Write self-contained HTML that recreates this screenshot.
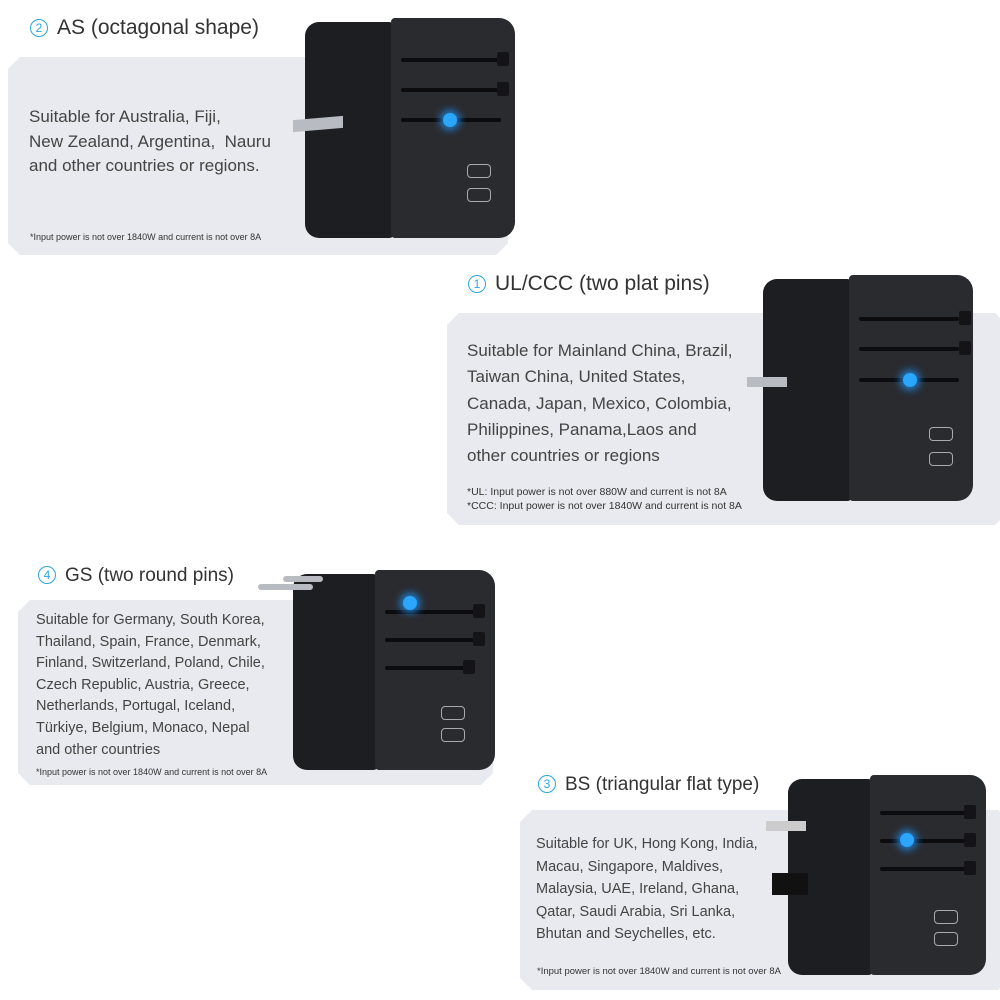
<!DOCTYPE html>
<html><head><meta charset="utf-8"><style>
body{margin:0;width:1000px;height:1000px;background:#fff;position:relative;overflow:hidden;font-family:"Liberation Sans",sans-serif;color:#3a3a3a}
.a{position:absolute}
.panel{position:absolute;background:#e8eaef;clip-path:polygon(0 12px,12px 0,calc(100% - 12px) 0,100% 12px,100% calc(100% - 12px),calc(100% - 12px) 100%,12px 100%,0 calc(100% - 12px))}
.t{position:absolute;font-size:21px;color:#333;white-space:nowrap}
.t b{display:inline-block;width:18px;height:18px;border:1.5px solid #2aa6e0;border-radius:50%;color:#2aa6e0;font-size:12px;text-align:center;line-height:16px;font-weight:normal;margin-right:9px;vertical-align:2px;box-sizing:border-box}
.p{position:absolute;font-size:15.5px;color:#444;white-space:nowrap}
.f{position:absolute;font-size:9.5px;color:#333;white-space:nowrap}
.ad{position:absolute}
.front{position:absolute;background:#1d1e21;border-radius:14px 6px 6px 14px}
.side{position:absolute;background:#2a2b2f;border-radius:4px 16px 16px 4px}
.slot{position:absolute;height:4px;background:#0c0c0e;border-radius:2px}
.tab{position:absolute;width:12px;height:14px;background:#141416;border-radius:2px}
.dot{position:absolute;width:14px;height:14px;border-radius:50%;background:#2aa6ff;box-shadow:0 0 8px 3px #1f7fd0}
.usb{position:absolute;width:22px;height:12px;border:1.5px solid #aaa;border-radius:4px}
.pin{position:absolute;background:#b8bcc2}
</style></head><body>

<!-- Section 1 -->
<div class="panel" style="left:8px;top:57px;width:500px;height:198px"></div>
<div class="t" style="left:30px;top:16px"><b>2</b>AS (octagonal shape)</div>
<div class="p" style="left:29px;top:105px;line-height:24.5px;font-size:17px">Suitable for Australia, Fiji,<br>New Zealand, Argentina,&nbsp; Nauru<br>and other countries or regions.</div>
<div class="f" style="left:30px;top:232px;font-size:9px">*Input power is not over 1840W and current is not over 8A</div>
<div class="ad" style="left:305px;top:18px">
 <div class="front" style="left:0;top:4px;width:90px;height:216px"></div>
 <div class="side" style="left:86px;top:0;width:124px;height:220px"></div>
 <div class="slot" style="left:96px;top:40px;width:100px"></div><div class="tab" style="left:192px;top:34px"></div>
 <div class="slot" style="left:96px;top:70px;width:100px"></div><div class="tab" style="left:192px;top:64px"></div>
 <div class="slot" style="left:96px;top:100px;width:100px"></div>
 <div class="dot" style="left:138px;top:95px"></div>
 <div class="usb" style="left:162px;top:146px"></div><div class="usb" style="left:162px;top:170px"></div>
 <div class="pin" style="left:-12px;top:100px;width:50px;height:12px;transform:skewY(-5deg)"></div>
</div>

<!-- Section 2 -->
<div class="panel" style="left:447px;top:313px;width:560px;height:212px"></div>
<div class="t" style="left:468px;top:272px"><b>1</b>UL/CCC (two plat pins)</div>
<div class="p" style="left:467px;top:338px;line-height:26.3px;font-size:17px">Suitable for Mainland China, Brazil,<br>Taiwan China, United States,<br>Canada, Japan, Mexico, Colombia,<br>Philippines, Panama,Laos and<br>other countries or regions</div>
<div class="f" style="left:467px;top:485px;line-height:14px;font-size:10.5px">*UL: Input power is not over 880W and current is not 8A<br>*CCC: Input power is not over 1840W and current is not 8A</div>
<div class="ad" style="left:763px;top:275px">
 <div class="front" style="left:0;top:4px;width:90px;height:222px"></div>
 <div class="side" style="left:86px;top:0;width:124px;height:226px"></div>
 <div class="slot" style="left:96px;top:42px;width:100px"></div><div class="tab" style="left:196px;top:36px"></div>
 <div class="slot" style="left:96px;top:72px;width:100px"></div><div class="tab" style="left:196px;top:66px"></div>
 <div class="slot" style="left:96px;top:103px;width:100px"></div>
 <div class="dot" style="left:140px;top:98px"></div>
 <div class="usb" style="left:166px;top:152px"></div><div class="usb" style="left:166px;top:177px"></div>
 <div class="pin" style="left:-16px;top:102px;width:40px;height:10px"></div>
</div>

<!-- Section 3 -->
<div class="panel" style="left:18px;top:600px;width:475px;height:185px"></div>
<div class="t" style="left:38px;top:565px;font-size:19px"><b>4</b>GS (two round pins)</div>
<div class="p" style="left:36px;top:610px;line-height:21.6px;font-size:14.5px">Suitable for Germany, South Korea,<br>Thailand, Spain, France, Denmark,<br>Finland, Switzerland, Poland, Chile,<br>Czech Republic, Austria, Greece,<br>Netherlands, Portugal, Iceland,<br>Türkiye, Belgium, Monaco, Nepal<br>and other countries</div>
<div class="f" style="left:36px;top:767px;font-size:9px">*Input power is not over 1840W and current is not over 8A</div>
<div class="ad" style="left:293px;top:570px">
 <div class="front" style="left:0;top:4px;width:86px;height:196px"></div>
 <div class="side" style="left:82px;top:0;width:120px;height:200px"></div>
 <div class="slot" style="left:92px;top:40px;width:90px"></div><div class="tab" style="left:180px;top:34px"></div>
 <div class="slot" style="left:92px;top:68px;width:90px"></div><div class="tab" style="left:180px;top:62px"></div>
 <div class="slot" style="left:92px;top:96px;width:90px"></div><div class="tab" style="left:170px;top:90px"></div>
 <div class="dot" style="left:110px;top:26px"></div>
 <div class="usb" style="left:148px;top:136px"></div><div class="usb" style="left:148px;top:158px"></div>
 <div class="pin" style="left:-35px;top:14px;width:55px;height:6px;border-radius:3px"></div>
 <div class="pin" style="left:-10px;top:6px;width:40px;height:6px;border-radius:3px"></div>
</div>

<!-- Section 4 -->
<div class="panel" style="left:520px;top:810px;width:490px;height:180px"></div>
<div class="t" style="left:538px;top:774px;font-size:19px"><b>3</b>BS (triangular flat type)</div>
<div class="p" style="left:536px;top:833px;line-height:22.5px;font-size:14.5px">Suitable for UK, Hong Kong, India,<br>Macau, Singapore, Maldives,<br>Malaysia, UAE, Ireland, Ghana,<br>Qatar, Saudi Arabia, Sri Lanka,<br>Bhutan and Seychelles, etc.</div>
<div class="f" style="left:537px;top:966px">*Input power is not over 1840W and current is not over 8A</div>
<div class="ad" style="left:788px;top:775px">
 <div class="front" style="left:0;top:4px;width:86px;height:196px"></div>
 <div class="side" style="left:82px;top:0;width:116px;height:200px"></div>
 <div class="slot" style="left:92px;top:36px;width:88px"></div><div class="tab" style="left:176px;top:30px"></div>
 <div class="slot" style="left:92px;top:64px;width:88px"></div><div class="tab" style="left:176px;top:58px"></div>
 <div class="slot" style="left:92px;top:92px;width:88px"></div><div class="tab" style="left:176px;top:86px"></div>
 <div class="dot" style="left:112px;top:58px"></div>
 <div class="usb" style="left:146px;top:135px"></div><div class="usb" style="left:146px;top:157px"></div>
 <div class="pin" style="left:-22px;top:46px;width:40px;height:10px;background:#ccc"></div>
 <div class="a" style="left:-16px;top:98px;width:36px;height:22px;background:#111"></div>
</div>

</body></html>
